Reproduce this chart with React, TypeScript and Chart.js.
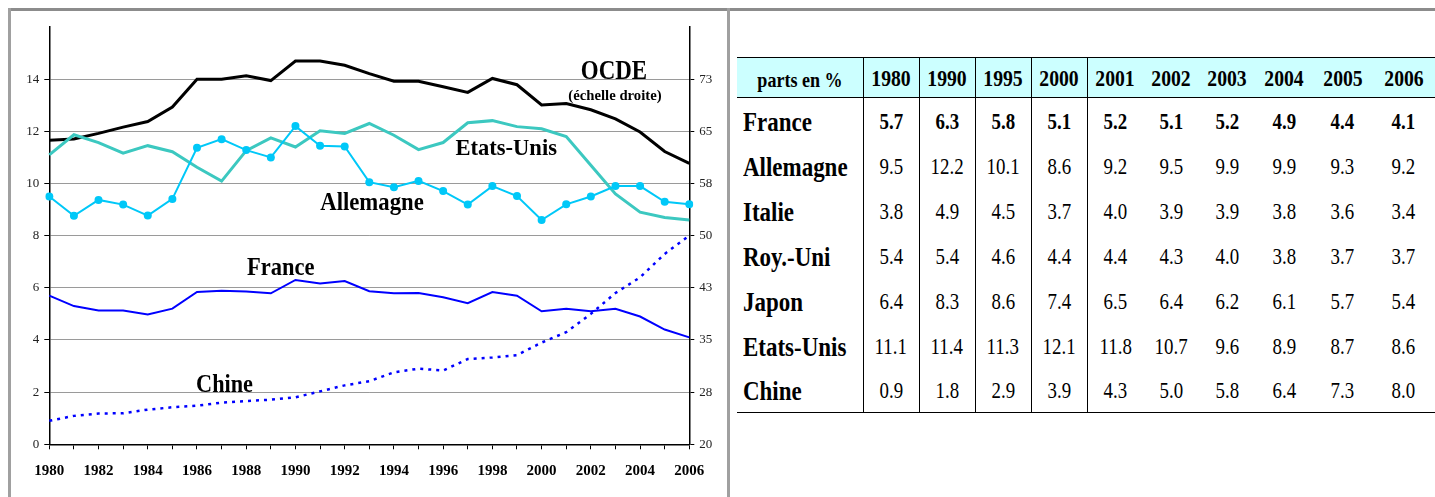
import React, { useEffect, useRef } from 'react';
import { Chart, registerables } from 'chart.js';

Chart.register(...registerables);

// ---------- chart data (1980 - 2006) ----------
const years = [
  '1980', '1981', '1982', '1983', '1984', '1985', '1986', '1987', '1988', '1989',
  '1990', '1991', '1992', '1993', '1994', '1995', '1996', '1997', '1998', '1999',
  '2000', '2001', '2002', '2003', '2004', '2005', '2006',
];

// OCDE, right-hand scale (échelle droite)
const ocde = [
  63.7, 63.9, 64.7, 65.6, 66.4, 68.5, 72.5, 72.5, 73.0, 72.3,
  75.1, 75.1, 74.5, 73.3, 72.2, 72.2, 71.4, 70.6, 72.6, 71.7,
  68.8, 69.0, 68.1, 66.8, 64.9, 62.1, 60.4,
];

const etatsUnis = [
  11.1, 11.87, 11.57, 11.16, 11.45, 11.22, 10.62, 10.09, 11.26, 11.75,
  11.4, 12.02, 11.92, 12.3, 11.85, 11.3, 11.57, 12.33, 12.41, 12.18,
  12.1, 11.8, 10.7, 9.6, 8.9, 8.7, 8.6,
];

const allemagne = [
  9.5, 8.76, 9.37, 9.19, 8.77, 9.41, 11.37, 11.7, 11.28, 11.0,
  12.2, 11.45, 11.42, 10.05, 9.86, 10.1, 9.71, 9.19, 9.9, 9.52,
  8.6, 9.2, 9.5, 9.9, 9.9, 9.3, 9.2,
];

const france = [
  5.7, 5.3, 5.13, 5.13, 4.98, 5.2, 5.84, 5.89, 5.86, 5.79,
  6.3, 6.17, 6.26, 5.87, 5.79, 5.8, 5.64, 5.41, 5.84, 5.7,
  5.1, 5.2, 5.1, 5.2, 4.9, 4.4, 4.1,
];

const chine = [
  0.9, 1.09, 1.18, 1.19, 1.33, 1.42, 1.48, 1.6, 1.66, 1.71,
  1.8, 2.03, 2.26, 2.42, 2.76, 2.9, 2.83, 3.27, 3.33, 3.42,
  3.9, 4.3, 5.0, 5.8, 6.4, 7.3, 8.0,
];

// ---------- table data ----------
const tableYears = ['1980', '1990', '1995', '2000', '2001', '2002', '2003', '2004', '2005', '2006'];
const tableCountries = ['France', 'Allemagne', 'Italie', 'Roy.-Uni', 'Japon', 'Etats-Unis', 'Chine'];
const tFrance = [5.7, 6.3, 5.8, 5.1, 5.2, 5.1, 5.2, 4.9, 4.4, 4.1];
const tAllemagne = [9.5, 12.2, 10.1, 8.6, 9.2, 9.5, 9.9, 9.9, 9.3, 9.2];
const tItalie = [3.8, 4.9, 4.5, 3.7, 4.0, 3.9, 3.9, 3.8, 3.6, 3.4];
const tRoyUni = [5.4, 5.4, 4.6, 4.4, 4.4, 4.3, 4.0, 3.8, 3.7, 3.7];
const tJapon = [6.4, 8.3, 8.6, 7.4, 6.5, 6.4, 6.2, 6.1, 5.7, 5.4];
const tEtatsUnis = [11.1, 11.4, 11.3, 12.1, 11.8, 10.7, 9.6, 8.9, 8.7, 8.6];
const tChine = [0.9, 1.8, 2.9, 3.9, 4.3, 5.0, 5.8, 6.4, 7.3, 8.0];
const tableRows = [tFrance, tAllemagne, tItalie, tRoyUni, tJapon, tEtatsUnis, tChine];

// ---------- chart text annotations (anchored in data units) ----------
const annotations = [
  { text: 'OCDE', x: 22.94, y: 14.35, size: 27, sx: 0.85 },
  { text: '(échelle droite)', x: 22.98, y: 13.38, size: 15, sx: 0.98 },
  { text: 'Etats-Unis', x: 18.56, y: 11.38, size: 24, sx: 0.94 },
  { text: 'Allemagne', x: 13.11, y: 9.29, size: 25, sx: 0.91 },
  { text: 'France', x: 9.4, y: 6.81, size: 25, sx: 0.9 },
  { text: 'Chine', x: 7.12, y: 2.32, size: 25, sx: 0.89 },
];

const SERIF = '"Liberation Serif", "Times New Roman", serif';

const annotationPlugin = {
  id: 'annotTexts',
  afterDatasetsDraw(chart: any) {
    const { ctx } = chart;
    const xs = chart.scales.x;
    const ys = chart.scales.y;
    ctx.save();
    ctx.fillStyle = '#000';
    ctx.textAlign = 'center';
    ctx.textBaseline = 'alphabetic';
    for (const a of annotations) {
      const px = xs.getPixelForValue(a.x);
      const py = ys.getPixelForValue(a.y) + a.size * 0.33;
      ctx.save();
      ctx.translate(px, py);
      ctx.scale(a.sx, 1);
      ctx.font = `bold ${a.size}px ${SERIF}`;
      ctx.fillText(a.text, 0, 0);
      ctx.restore();
    }
    ctx.restore();
  },
};

function ChartPanel() {
  const ref = useRef<HTMLCanvasElement>(null);
  useEffect(() => {
    if (!ref.current) return;
    const chart = new Chart(ref.current, {
      type: 'line',
      data: {
        labels: years,
        datasets: [
          {
            label: 'Allemagne',
            data: allemagne,
            borderColor: '#00C8F8',
            backgroundColor: '#00C8F8',
            borderWidth: 2,
            pointRadius: 4,
            pointBorderWidth: 0,
            pointBackgroundColor: '#00C8F8',
            yAxisID: 'y',
          },
          {
            label: 'France',
            data: france,
            borderColor: '#0000FF',
            borderWidth: 2,
            pointRadius: 0,
            yAxisID: 'y',
          },
          {
            label: 'Chine',
            data: chine,
            borderColor: '#0000FF',
            borderWidth: 2.5,
            borderDash: [3, 5],
            pointRadius: 0,
            yAxisID: 'y',
          },
          {
            label: 'Etats-Unis',
            data: etatsUnis,
            borderColor: '#3CC8C0',
            borderWidth: 3,
            pointRadius: 0,
            yAxisID: 'y',
          },
          {
            label: 'OCDE',
            data: ocde,
            borderColor: '#000000',
            borderWidth: 3,
            pointRadius: 0,
            yAxisID: 'y1',
          },
        ],
      },
      options: {
        animation: false,
        responsive: false,
        maintainAspectRatio: false,
        layout: { padding: { top: 17, left: 0, right: 0, bottom: 0 } },
        plugins: {
          legend: { display: false },
          tooltip: { enabled: false },
        },
        elements: { line: { tension: 0 } },
        scales: {
          x: {
            type: 'category',
            offset: false,
            grid: {
              display: true,
              drawOnChartArea: false,
              drawTicks: true,
              tickLength: 5,
              tickColor: '#000',
              offset: false,
            },
            border: { color: '#000', width: 1.5 },
            ticks: {
              autoSkip: false,
              maxRotation: 0,
              minRotation: 0,
              padding: 13,
              color: '#000',
              font: { family: SERIF, size: 15, weight: 'bold' },
              callback: (_v: any, i: number) => (i % 2 === 0 ? years[i] : ''),
            },
            afterFit: (s: any) => {
              s.height = 52.7;
            },
          },
          y: {
            type: 'linear',
            position: 'left',
            min: 0,
            max: 16,
            grid: {
              color: '#9a9a9a',
              lineWidth: 1,
              tickColor: '#000',
              tickLength: 5,
            },
            border: { color: '#000', width: 1.5 },
            ticks: {
              stepSize: 2,
              padding: 5,
              color: '#222',
              font: { family: SERIF, size: 13 },
            },
            afterBuildTicks: (s: any) => {
              s.ticks = s.ticks.filter((t: any) => t.value < 16);
            },
            afterFit: (s: any) => {
              s.width = 37.3;
            },
          },
          y1: {
            type: 'linear',
            position: 'right',
            min: 20,
            max: 80,
            grid: {
              drawOnChartArea: false,
              tickColor: '#000',
              tickLength: 5,
            },
            border: { color: '#000', width: 1.5 },
            ticks: {
              stepSize: 7.5,
              padding: 5,
              color: '#222',
              font: { family: SERIF, size: 13 },
              callback: (v: any) => String(Math.round(Number(v))),
            },
            afterBuildTicks: (s: any) => {
              s.ticks = s.ticks.filter((t: any) => t.value < 80);
            },
            afterFit: (s: any) => {
              s.width = 36.7;
            },
          },
        },
      },
      plugins: [annotationPlugin],
    } as any);
    return () => chart.destroy();
  }, []);
  return (
    <canvas
      ref={ref}
      width={714}
      height={487}
      style={{ position: 'absolute', left: 4, top: 2, width: 714, height: 487 }}
    />
  );
}

const colWidths = [126, 56, 56, 56, 56, 56, 56, 56, 58, 59, 63];
const SQ = 0.82;

function Sq({ children, origin = 'center' }: { children: React.ReactNode; origin?: string }) {
  return (
    <span style={{ display: 'inline-block', transform: `scaleX(${SQ})`, transformOrigin: origin, whiteSpace: 'nowrap' }}>
      {children}
    </span>
  );
}

function DataTable() {
  const line = '1.5px solid #000';
  const vBorder = (i: number) => (i <= 4 ? line : 'none');
  return (
    <table
      style={{
        position: 'absolute',
        left: 729,
        top: 49,
        width: 698,
        borderCollapse: 'collapse',
        tableLayout: 'fixed',
        fontFamily: SERIF,
        color: '#000',
      }}
    >
      <colgroup>
        {colWidths.map((w, i) => (
          <col key={i} style={{ width: w }} />
        ))}
      </colgroup>
      <thead>
        <tr style={{ height: 39.5, background: '#CCFFFF' }}>
          <th
            style={{
              borderTop: line,
              borderBottom: line,
              borderRight: vBorder(0),
              padding: '6px 0 0 0',
              fontSize: 22,
              fontWeight: 'bold',
              textAlign: 'center',
              lineHeight: '26px',
            }}
          >
            <Sq>parts en %</Sq>
          </th>
          {tableYears.map((y, i) => (
            <th
              key={y}
              style={{
                borderTop: line,
                borderBottom: line,
                borderRight: vBorder(i + 1),
                padding: '2px 0 0 0',
                fontSize: 24,
                fontWeight: 'bold',
                textAlign: 'center',
                lineHeight: '28px',
              }}
            >
              <Sq>{y}</Sq>
            </th>
          ))}
        </tr>
      </thead>
      <tbody>
        {tableCountries.map((c, r) => {
          const last = r === tableCountries.length - 1;
          const bold = r === 0;
          return (
            <tr key={c} style={{ height: 45 }}>
              <td
                style={{
                  borderRight: vBorder(0),
                  borderBottom: last ? line : 'none',
                  padding: '4px 0 0 6px',
                  fontSize: 28,
                  fontWeight: 'bold',
                  textAlign: 'left',
                  lineHeight: '32px',
                }}
              >
                <Sq origin="left">{c}</Sq>
              </td>
              {tableRows[r].map((v, i) => (
                <td
                  key={i}
                  style={{
                    borderRight: vBorder(i + 1),
                    borderBottom: last ? line : 'none',
                    padding: '4px 0 0 0',
                    fontSize: 23,
                    fontWeight: bold ? 'bold' : 'normal',
                    textAlign: 'center',
                    lineHeight: '28px',
                  }}
                >
                  <Sq>{v.toFixed(1)}</Sq>
                </td>
              ))}
            </tr>
          );
        })}
      </tbody>
    </table>
  );
}

export default function App() {
  return (
    <div
      style={{
        position: 'fixed',
        left: 8,
        top: 8,
        width: 1427,
        height: 489,
        overflow: 'hidden',
        background: '#fff',
      }}
    >
      <div style={{ position: 'absolute', left: 0, top: 0, width: 1427, height: 2.5, background: '#8c8c8c' }} />
      <div style={{ position: 'absolute', left: 0, top: 0, width: 3, height: 489, background: '#a0a0a0' }} />
      <div style={{ position: 'absolute', left: 719, top: 0, width: 3, height: 489, background: '#a0a0a0' }} />
      <ChartPanel />
      <DataTable />
    </div>
  );
}
